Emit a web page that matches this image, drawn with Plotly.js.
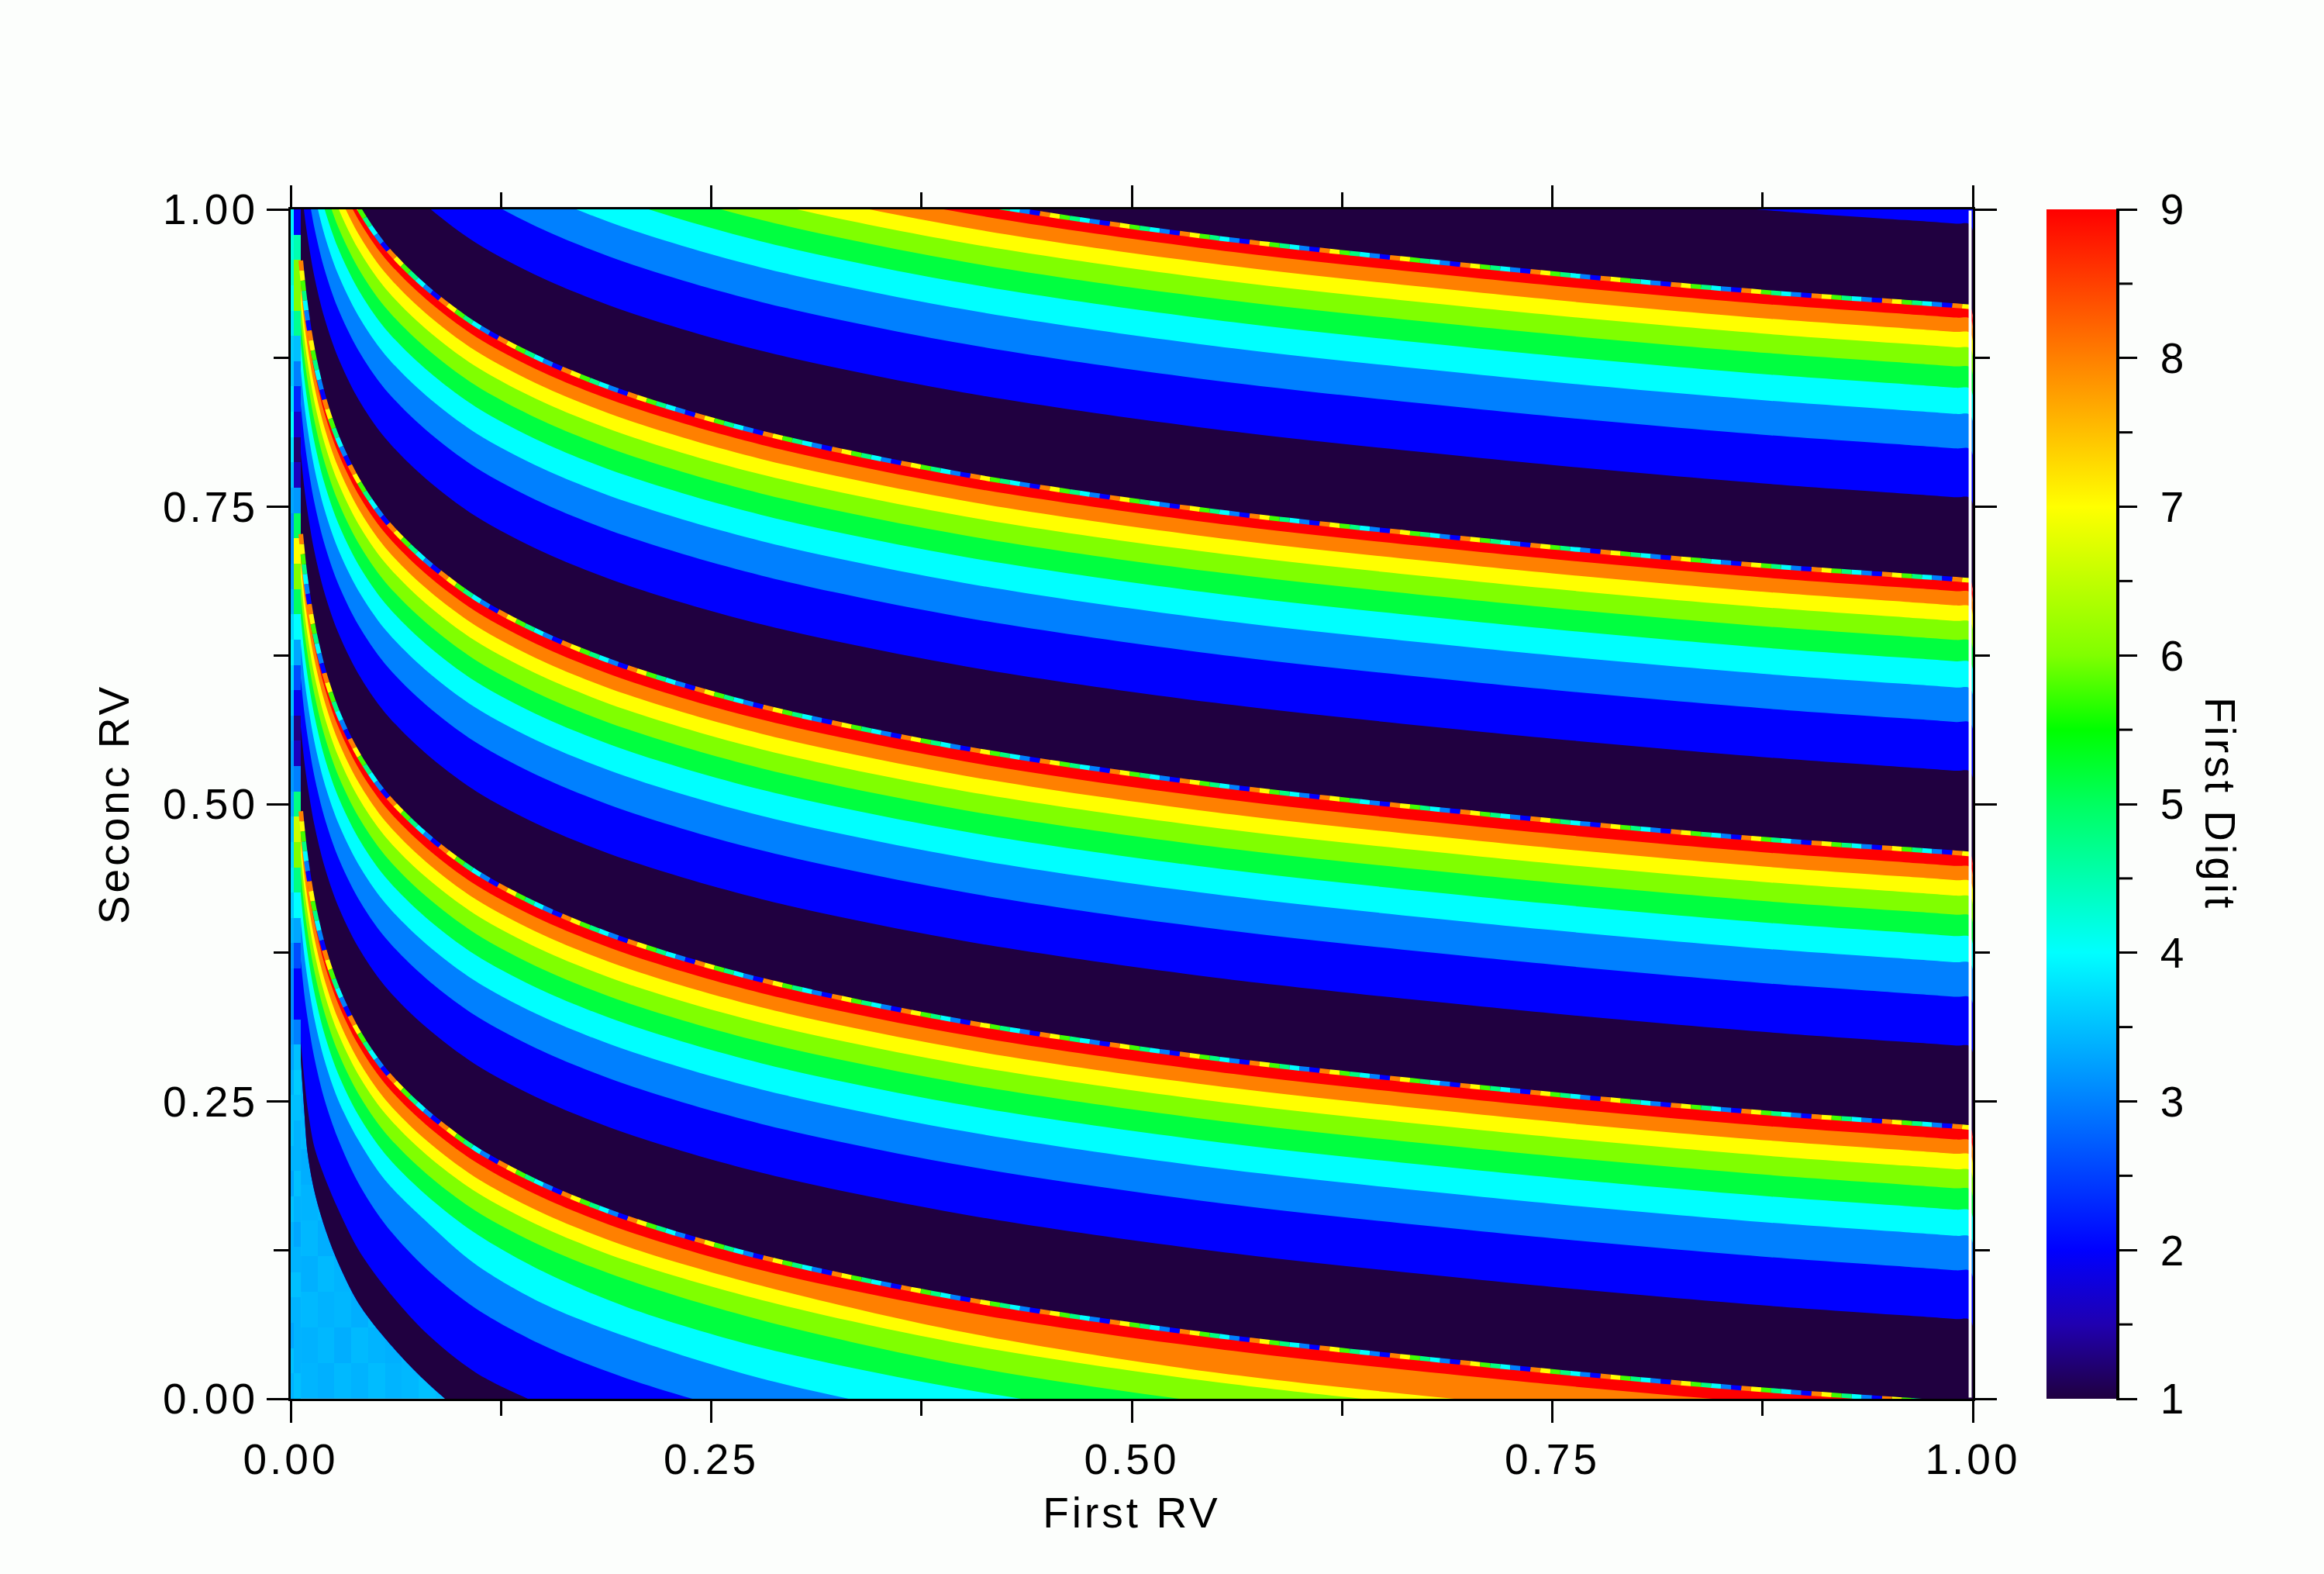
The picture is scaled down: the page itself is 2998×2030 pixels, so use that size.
<!DOCTYPE html>
<html><head><meta charset="utf-8">
<script src="https://cdn.plot.ly/plotly-3.0.1.min.js"></script>
<style>html,body{margin:0;padding:0;background:#fcfefc}.main-svg text{letter-spacing:4px}</style>
</head><body><div id="c" style="width:2998px;height:2030px"></div>
<script>
const firstRV=[.006,.008,.01,.014,.02,.028,.04,.056,.08,.11,.15,.2,.28,.4,.55,.75,.88,.96,.99,.9985];
// Second RV value of each band edge at those stations (top of the chart to the bottom)
const F3=[1.529,1.501,1.480,1.447,1.412,1.379,1.344,1.311,1.277,1.245,1.215,1.187,1.154,1.119,1.088,1.058,1.042,1.034,1.031,1.03];
const F2=[1.486,1.458,1.437,1.404,1.369,1.336,1.301,1.268,1.234,1.202,1.172,1.144,1.111,1.076,1.045,1.015,.999,.991,.988,.987];
const E10=[1.417,1.389,1.368,1.335,1.300,1.267,1.232,1.199,1.165,1.133,1.103,1.075,1.042,1.007,.976,.946,.930,.922,.919,.918];
const E9=[1.407,1.379,1.358,1.325,1.290,1.257,1.222,1.189,1.155,1.123,1.093,1.065,1.032,.997,.966,.936,.920,.912,.909,.908];
const E8=[1.395,1.367,1.346,1.313,1.278,1.245,1.210,1.177,1.143,1.111,1.081,1.053,1.020,.985,.954,.924,.908,.900,.897,.896];
const E7=[1.382,1.354,1.333,1.300,1.265,1.232,1.197,1.164,1.130,1.098,1.068,1.040,1.007,.972,.941,.911,.895,.887,.884,.883];
const E6=[1.366,1.338,1.317,1.284,1.249,1.216,1.181,1.148,1.114,1.082,1.052,1.024,.991,.956,.925,.895,.879,.871,.868,.867];
const E5=[1.348,1.320,1.299,1.266,1.231,1.198,1.163,1.130,1.096,1.064,1.034,1.006,.973,.938,.907,.877,.861,.853,.850,.849];
const E4=[1.326,1.298,1.277,1.244,1.209,1.176,1.141,1.108,1.074,1.042,1.012,.984,.951,.916,.885,.855,.839,.831,.828,.827];
const E3=[1.297,1.269,1.248,1.215,1.180,1.147,1.112,1.079,1.045,1.013,.983,.955,.922,.887,.856,.826,.810,.802,.799,.798];
const E2=[1.256,1.228,1.207,1.174,1.139,1.106,1.071,1.038,1.004,.972,.942,.914,.881,.846,.815,.785,.769,.761,.758,.757];
const D10=[1.187,1.159,1.138,1.105,1.070,1.037,1.002,.969,.935,.903,.873,.845,.812,.777,.746,.716,.700,.692,.689,.688];
const D9=[1.177,1.149,1.128,1.095,1.060,1.027,.992,.959,.925,.893,.863,.835,.802,.767,.736,.706,.690,.682,.679,.678];
const D8=[1.165,1.137,1.116,1.083,1.048,1.015,.980,.947,.913,.881,.851,.823,.790,.755,.724,.694,.678,.670,.667,.666];
const D7=[1.152,1.124,1.103,1.070,1.035,1.002,.967,.934,.900,.868,.838,.810,.777,.742,.711,.681,.665,.657,.654,.653];
const D6=[1.136,1.108,1.087,1.054,1.019,.986,.951,.918,.884,.852,.822,.794,.761,.726,.695,.665,.649,.641,.638,.637];
const D5=[1.118,1.090,1.069,1.036,1.001,.968,.933,.900,.866,.834,.804,.776,.743,.708,.677,.647,.631,.623,.620,.619];
const D4=[1.096,1.068,1.047,1.014,.979,.946,.911,.878,.844,.812,.782,.754,.721,.686,.655,.625,.609,.601,.598,.597];
const D3=[1.067,1.039,1.018,.985,.950,.917,.882,.849,.815,.783,.753,.725,.692,.657,.626,.596,.580,.572,.569,.568];
const D2=[1.026,.998,.977,.944,.909,.876,.841,.808,.774,.742,.712,.684,.651,.616,.585,.555,.539,.531,.528,.527];
const C10=[.957,.929,.908,.875,.840,.807,.772,.739,.705,.673,.643,.615,.582,.547,.516,.486,.470,.462,.459,.458];
const C9=[.946,.918,.897,.864,.829,.796,.761,.728,.694,.662,.632,.604,.571,.536,.505,.475,.459,.451,.448,.447];
const C8=[.934,.906,.885,.852,.817,.784,.749,.716,.682,.650,.620,.592,.559,.524,.493,.463,.447,.439,.436,.435];
const C7=[.921,.893,.872,.839,.804,.771,.736,.703,.669,.637,.607,.579,.546,.511,.480,.450,.434,.426,.423,.422];
const C6=[.905,.877,.856,.823,.788,.755,.720,.687,.653,.621,.591,.563,.530,.495,.464,.434,.418,.410,.407,.406];
const C5=[.887,.859,.838,.805,.770,.737,.702,.669,.635,.603,.573,.545,.512,.477,.446,.416,.400,.392,.389,.388];
const C4=[.865,.837,.816,.783,.748,.715,.680,.647,.613,.581,.551,.523,.490,.455,.424,.394,.378,.370,.367,.366];
const C3=[.836,.808,.787,.754,.719,.686,.651,.618,.584,.552,.522,.494,.461,.426,.395,.365,.349,.341,.338,.337];
const C2=[.795,.767,.746,.713,.678,.645,.610,.577,.543,.511,.481,.453,.420,.385,.354,.324,.308,.300,.297,.296];
const B10=[.727,.699,.678,.645,.610,.577,.542,.509,.475,.443,.413,.385,.352,.317,.286,.256,.240,.232,.229,.228];
const B9=[.716,.688,.667,.634,.599,.566,.531,.498,.464,.432,.402,.374,.341,.306,.275,.245,.229,.221,.218,.217];
const B8=[.704,.676,.655,.622,.587,.554,.519,.486,.452,.420,.390,.362,.329,.294,.263,.233,.217,.209,.206,.205];
const B7=[.691,.663,.642,.609,.574,.541,.506,.473,.439,.407,.377,.349,.316,.281,.250,.220,.204,.196,.193,.192];
const B6=[.675,.647,.626,.593,.558,.525,.490,.457,.423,.391,.361,.333,.300,.265,.234,.204,.188,.180,.177,.176];
const B5=[.657,.629,.608,.575,.540,.507,.472,.439,.405,.373,.343,.315,.282,.247,.216,.186,.170,.162,.159,.158];
const B4=[.635,.607,.586,.553,.518,.485,.450,.417,.383,.351,.321,.293,.260,.225,.194,.164,.148,.140,.137,.136];
const B3=[.606,.578,.557,.524,.489,.456,.421,.388,.354,.322,.292,.264,.231,.196,.165,.135,.119,.111,.108,.107];
const B2=[.565,.537,.516,.483,.448,.415,.380,.347,.313,.281,.251,.223,.190,.155,.124,.094,.078,.070,.067,.066];
const A10=[.494,.466,.445,.412,.377,.344,.309,.276,.242,.210,.180,.152,.119,.084,.053,.023,.007,-.001,-.004,-.005];
const A9=[.483,.455,.434,.401,.366,.333,.298,.265,.231,.199,.169,.141,.108,.073,.042,.012,-.004,-.012,-.015,-.016];
const A8=[.470,.442,.421,.388,.353,.320,.285,.252,.218,.186,.156,.128,.095,.056,.022,-.008,-.024,-.032,-.035,-.036];
const A7=[.458,.430,.409,.376,.341,.308,.273,.240,.206,.174,.144,.116,.083,.046,.014,-.016,-.032,-.040,-.043,-.044];
const A6=[.442,.414,.393,.360,.325,.292,.257,.224,.190,.158,.128,.100,.066,.028,-.004,-.034,-.050,-.058,-.061,-.062];
const A5=[.424,.396,.375,.342,.307,.274,.239,.206,.172,.139,.107,.077,.043,.008,-.023,-.053,-.069,-.077,-.080,-.081];
const A4=[.402,.374,.353,.320,.285,.252,.218,.184,.150,.113,.080,.052,.017,-.019,-.050,-.080,-.096,-.104,-.107,-.108];
const A3=[.369,.341,.320,.287,.252,.219,.182,.147,.110,.076,.045,.017,-.016,-.055,-.088,-.118,-.134,-.142,-.145,-.146];
const A2=[.300,.270,.245,.212,.187,.160,.126,.094,.056,.022,-.006,-.040,-.070,-.105,-.135,-.165,-.178,-.186,-.189,-.190];
const A1=[.285,.243,.207,.175,.145,.115,.081,.051,.015,-.020,-.050,-.080,-.110,-.145,-.175,-.205,-.223,-.231,-.234,-.235];
// Mean digit in the two leftmost cell columns, from the bottom row up
const columnEdges=[0,.002,.006];
const rowEdges=[0,.0213,.0426,.0638,.0851,.1064,.1277,.1489,.1702,.1915,.2128,.234,.2553,.2766,.2979,.3191,.3404,.3617,.383,.4043,.4255,.4468,.4681,.4894,.5106,.5319,.5532,.5745,.5957,.617,.6383,.6596,.6809,.7021,.7234,.7447,.766,.7872,.8085,.8298,.8511,.8723,.8936,.9149,.9362,.9574,.9787,1];
const column1=[3.4,3.5,3.3,3.4,3.5,3.4,3.4,3.5,3.3,3.4,3.5,3.5,3.4,3.3,3.2,3.1,3.1,3.2,3.4,3.6,3.8,3.7,3.5,3.3,3.2,3.2,3.3,3.5,3.7,3.9,3.7,3.4,3.2,3.1,3.1,3.3,3.5,3.8,4,3.8,3.6,3.6,3.8,4.1,4.3,4.2,3.9];
const column2=[3.5,3.4,3.4,3.4,3.5,3.4,3.3,3.4,3.5,3.4,3.4,3.5,3.6,3.5,3,2,2,2.6,3.3,4,4.8,6,6.6,4.8,3,1.6,1.3,1.9,2.6,3.3,4,5,6,7,5,3.2,1.6,1.2,1.7,2.3,3,3.5,4.7,6,6,4.5,2];
// Mean digit of the speckled patch in the lower left corner
const patchX=[.006,.016,.026,.036,.046,.056,.066,.076,.086,.096,.106];
const patchY=[0,.03,.06,.09,.12,.15,.18,.21,.24,.27,.3];
const patchZ=[
[3.42,3.38,3.45,3.4,3.47,3.41,3.44,3.5,3.46,3.42],
[3.39,3.44,3.36,3.46,3.41,3.38,3.45,3.42,3.5,3.44],
[3.45,3.4,3.43,3.37,3.47,3.44,3.39,3.46,3.41,3.45],
[3.38,3.46,3.41,3.44,3.38,3.42,3.47,3.4,3.44,3.41],
[3.44,3.36,3.47,3.4,3.45,3.39,3.43,3.46,3.4,3.44],
[3.41,3.45,3.38,3.43,3.36,3.47,3.41,3.44,3.42,3.4],
[3.36,3.42,3.46,3.39,3.44,3.4,3.45,3.41,3.43,3.46],
[3.45,3.39,3.41,3.47,3.42,3.44,3.38,3.46,3.4,3.42],
[3.4,3.44,3.36,3.42,3.46,3.39,3.44,3.41,3.45,3.41],
[3.43,3.38,3.45,3.41,3.39,3.46,3.42,3.4,3.44,3.43]];
const curves=[F3,F2,E10,E9,E8,E7,E6,E5,E4,E3,E2,D10,D9,D8,D7,D6,D5,D4,D3,D2,C10,C9,C8,C7,C6,C5,C4,C3,C2,B10,B9,B8,B7,B6,B5,B4,B3,B2,A10,A9,A8,A7,A6,A5,A4,A3,A2,A1];
const digitColors=['#200040','#0000ff','#0080ff','#00ffff','#00ff40','#80ff00','#ffff00','#ff8000','#ff0000'];
// Digit shown just under each curve in the list above (the last curve has none)
const bandDigit=[2,1,9,8,7,6,5,4,3,2,1,9,8,7,6,5,4,3,2,1,9,8,7,6,5,4,3,2,1,9,8,7,6,5,4,3,2,1,9,8,7,6,5,4,3,2,1];
const stippleCurves=[E10,D10,C10,B10,A10];
const stippleColors=['#ff8000','#ffff00','#40ff00','#00ff80','#00ffff','#0080ff','#0000ff'];
const majorTicks=[0,.25,.5,.75,1];
const barTicks=[1,2,3,4,5,6,7,8,9];
const barMinor=[1.5,2.5,3.5,4.5,5.5,6.5,7.5,8.5];
const scale=[[0,'#200040'],[.0625,'#2000b0'],[.125,'#0000ff'],[.25,'#0080ff'],[.375,'#00ffff'],[.5,'#00ff60'],[.5625,'#00ff00'],[.625,'#80ff00'],[.75,'#ffff00'],[.875,'#ff8000'],[1,'#ff0000']];

const FONT='"Liberation Sans",Arial,sans-serif', FS=55;
const font={family:FONT,size:FS,color:'#000'};
const traces=[];
traces.push({type:'heatmap',x:columnEdges,y:rowEdges,z:column1.map((v,i)=>[v,column2[i]]),zmin:1,zmax:9,colorscale:scale,zsmooth:false,hoverinfo:'skip',
  colorbar:{x:(2640-375)/2170,xanchor:'left',xpad:0,y:0,yanchor:'bottom',ypad:0,len:1,lenmode:'fraction',thickness:90,thicknessmode:'pixels',outlinewidth:0,borderwidth:0,
    tickmode:'array',tickvals:barTicks,ticktext:barTicks.map(v=>'\u00a0'+v),ticks:'outside',ticklen:27,tickwidth:3,tickcolor:'#000',tickfont:font}});
traces.push({type:'heatmap',x:patchX,y:patchY,z:patchZ,zmin:1,zmax:9,colorscale:scale,showscale:false,hoverinfo:'skip'});
bandDigit.forEach((d,i)=>{
  const low=curves[Math.min(i+2,curves.length-1)];
  traces.push({type:'scatter',mode:'lines',x:firstRV.concat(firstRV.slice().reverse()),y:curves[i].concat(low.slice().reverse()),
    fill:'toself',fillcolor:digitColors[d-1],line:{width:0,shape:'spline',smoothing:.9},hoverinfo:'skip',showlegend:false});
});
const cell=13, period=cell*stippleColors.length;
stippleCurves.forEach(c=>{
  stippleColors.forEach((col,j)=>{
    const dash='0px,'+(cell*j)+'px,'+cell+'px,'+(period-cell*(j+1))+'px';
    traces.push({type:'scatter',mode:'lines',x:firstRV,y:c,line:{color:col,width:6,dash:dash,shape:'spline',smoothing:.9},hoverinfo:'skip',showlegend:false});
  });
});
const ax=(t)=>({range:[0,1],tickmode:'array',tickvals:majorTicks,ticktext:majorTicks.map(v=>v.toFixed(2)),ticks:'outside',ticklen:28,tickwidth:3,tickcolor:'#000',
  showline:true,linewidth:3,linecolor:'#000',mirror:'ticks',showgrid:false,zeroline:false,tickfont:font,
  minor:{tickmode:'array',tickvals:[.125,.375,.625,.875],ticks:'outside',ticklen:19,tickwidth:3,tickcolor:'#000',showgrid:false},
  title:{text:t,font:font}});
const shapes=[{type:'line',xref:'paper',yref:'paper',x0:(2732-375)/2170,x1:(2732-375)/2170,y0:0,y1:1,line:{color:'#000',width:4}},
  {type:'rect',xref:'paper',yref:'paper',x0:.9975,x1:.9993,y0:.001,y1:.999,layer:'above',fillcolor:'#fcfefc',line:{width:0}}];
barMinor.forEach(m=>shapes.push({type:'line',xref:'paper',yref:'paper',x0:(2732-375)/2170,x1:(2751-375)/2170,y0:(m-1)/8,y1:(m-1)/8,line:{color:'#000',width:3}}));
const xa=ax('First RV');xa.title.standoff=20;
const ya=ax('Seconc RV');ya.title.standoff=42;
const annotations=[{xref:'paper',yref:'paper',x:(2864-375)/2170,y:.5,xanchor:'center',yanchor:'middle',text:'First Digit',textangle:90,showarrow:false,font:font}];
Plotly.newPlot('c',traces,{width:2998,height:2030,margin:{l:375,r:453,t:270,b:226,pad:0},paper_bgcolor:'#fcfefc',plot_bgcolor:'#fcfefc',showlegend:false,xaxis:xa,yaxis:ya,shapes:shapes,annotations:annotations,font:font},{displayModeBar:false,staticPlot:true});
</script></body></html>
